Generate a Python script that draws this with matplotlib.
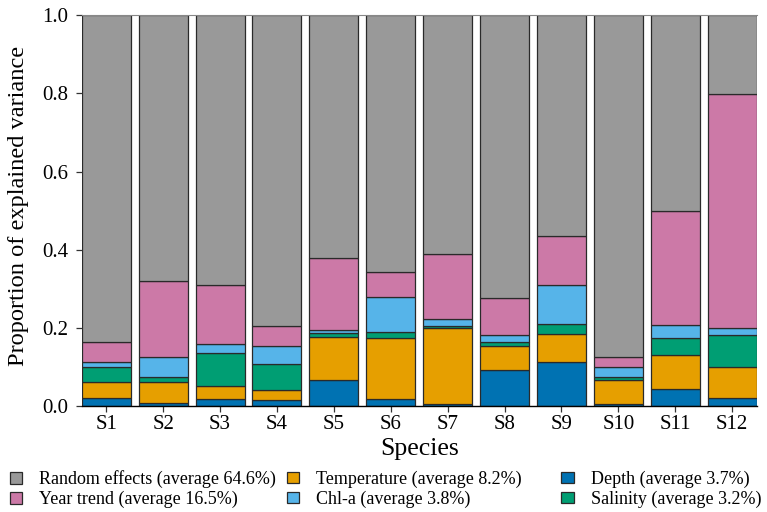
import matplotlib.pyplot as plt
import numpy as np

plt.rcParams['font.family'] = ['Liberation Serif', 'DejaVu Serif']

species = ['S1', 'S2', 'S3', 'S4', 'S5', 'S6', 'S7', 'S8', 'S9', 'S10', 'S11', 'S12']

depth = [0.020, 0.008, 0.018, 0.015, 0.066, 0.018, 0.007, 0.092, 0.114, 0.007, 0.043, 0.020]
temperature = [0.041, 0.054, 0.035, 0.026, 0.110, 0.157, 0.192, 0.062, 0.072, 0.061, 0.087, 0.081]
salinity = [0.039, 0.012, 0.082, 0.066, 0.011, 0.014, 0.007, 0.011, 0.024, 0.007, 0.045, 0.080]
chla = [0.012, 0.053, 0.024, 0.048, 0.009, 0.091, 0.018, 0.018, 0.101, 0.025, 0.033, 0.020]
year = [0.052, 0.193, 0.152, 0.051, 0.182, 0.062, 0.164, 0.095, 0.123, 0.025, 0.290, 0.597]

labels = {
    'random': 'Random effects (average 64.6%)',
    'year': 'Year trend (average 16.5%)',
    'temp': 'Temperature (average 8.2%)',
    'chla': 'Chl-a (average 3.8%)',
    'depth': 'Depth (average 3.7%)',
    'sal': 'Salinity (average 3.2%)',
}

random_eff = 1 - np.sum([depth, temperature, salinity, chla, year], axis=0)

colors = {
    'depth': '#0072B2', 'temp': '#E69F00', 'sal': '#009E73',
    'chla': '#56B4E9', 'year': '#CC79A7', 'random': '#999999',
}

fig, ax = plt.subplots(figsize=(7.67, 5.12), dpi=100)
x = np.arange(len(species))
w = 0.862

stack = [('depth', depth), ('temp', temperature), ('sal', salinity),
         ('chla', chla), ('year', year), ('random', random_eff)]
bottom = np.zeros(len(species))
bars = {}
for key, vals in stack:
    bars[key] = ax.bar(x, vals, w, bottom=bottom, color=colors[key],
                       edgecolor='#2a2a2a', linewidth=0.9, label=labels[key])
    bottom += np.array(vals)

ax.set_xlim(-w / 2, 11 + w / 2)
ax.set_ylim(0, 1.0)
ax.set_xticks(x)
ax.set_xticklabels(species)
ax.set_yticks(np.arange(0, 1.01, 0.2))
ax.set_yticklabels(['%.1f' % v for v in np.arange(0, 1.01, 0.2)])
ax.tick_params(labelsize=15, length=4.5, width=0.9, color='#333333')
ax.tick_params(axis='y', pad=5)
ax.tick_params(axis='x', pad=2)
ax.set_xlabel('Species', fontsize=18.5)
ax.xaxis.set_label_coords(0.5, -0.082)
ax.set_ylabel('Proportion of explained variance', fontsize=17.6)
ax.yaxis.set_label_coords(-0.078, 0.512)
ax.spines['left'].set_visible(False)
ax.spines['right'].set_visible(False)
ax.spines['top'].set_color('#888888')
ax.spines['top'].set_linewidth(0.8)
ax.spines['bottom'].set_linewidth(1.0)

# legend: three columns placed separately, as in the original
columns = [['random', 'year'], ['temp', 'chla'], ['depth', 'sal']]
col_x = [0.013, 0.374, 0.732]
for keys, cx in zip(columns, col_x):
    fig.legend([bars[k] for k in keys], [labels[k] for k in keys],
               loc='upper left', bbox_to_anchor=(cx, 0.081), frameon=False,
               fontsize=13, handlelength=0.67, handleheight=0.6,
               handletextpad=0.95, labelspacing=0.15,
               borderpad=0, borderaxespad=0)

fig.subplots_adjust(left=0.1065, right=0.9866, top=0.9707, bottom=0.2064)
fig.savefig('out.png', dpi=100)
